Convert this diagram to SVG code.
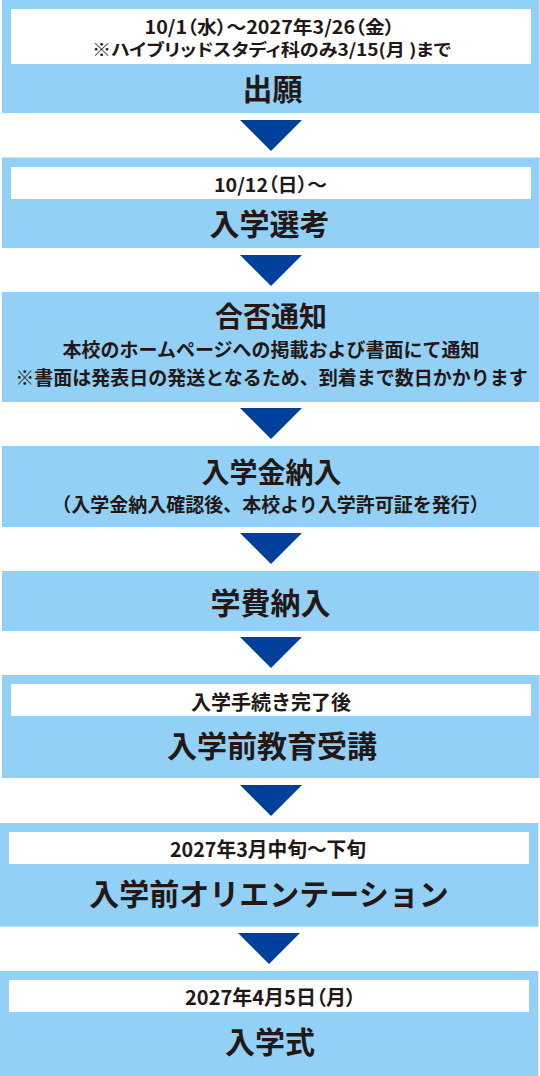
<svg xmlns="http://www.w3.org/2000/svg" width="540" height="1076" viewBox="0 0 540 1076">
  <style>
    .box { fill: #93D0F5; }
    .inner { fill: #FFFFFF; }
    .arrow { fill: #00409A; }
    text { font-family: "Noto Sans CJK JP", "Noto Sans", sans-serif; fill: #231815; text-anchor: middle; font-weight: 700; }
    .title { font-size: 30px; }
    .title28 { font-size: 28px; }
    .sub { font-size: 19px; }
    .date { font-size: 19px; font-feature-settings: "palt"; }
  </style>
  <rect width="540" height="1076" fill="#FFFFFF"/>

  <g id="connectors">
    <polygon class="arrow" points="240,120 302,120 271,151"/>
    <polygon class="arrow" points="240,255 302,255 271,286"/>
    <polygon class="arrow" points="240,408 302,408 271,439"/>
    <polygon class="arrow" points="240,533 302,533 271,564"/>
    <polygon class="arrow" points="240,637 302,637 271,668"/>
    <polygon class="arrow" points="240,785 302,785 271,816"/>
    <polygon class="arrow" points="238,933 300,933 269,964"/>
  </g>

  <g id="node-shutsugan">
    <rect class="box" x="2" y="0" width="537.5" height="113"/>
    <rect class="inner" x="11" y="9" width="520" height="55"/>
    <text class="date" x="269.5" y="33.5" style="font-size:18.5px" textLength="250" lengthAdjust="spacingAndGlyphs">10/1（水）〜2027年3/26（金）</text>
    <text class="date" x="271.5" y="55.5" style="font-size:17px" textLength="359" lengthAdjust="spacingAndGlyphs">※ハイブリッドスタディ科のみ3/15(月 )まで</text>
    <text class="title" x="272.5" y="100">出願</text>
  </g>

  <g id="node-senkou">
    <rect class="box" x="2" y="157.5" width="537.5" height="90.5"/>
    <rect class="inner" x="11" y="167" width="520" height="32"/>
    <text class="date" x="270.5" y="192" textLength="113" lengthAdjust="spacingAndGlyphs">10/12（日）〜</text>
    <text class="title" x="269.5" y="235">入学選考</text>
  </g>

  <g id="node-gouhi">
    <rect class="box" x="2" y="292" width="537.5" height="110"/>
    <text class="title28" x="271" y="327">合否通知</text>
    <text class="sub" x="271" y="357">本校のホームページへの掲載および書面にて通知</text>
    <text class="sub" x="271.5" y="385">※書面は発表日の発送となるため、到着まで数日かかります</text>
  </g>

  <g id="node-nyugakukin">
    <rect class="box" x="2" y="446" width="537.5" height="81"/>
    <text class="title28" x="271.5" y="483">入学金納入</text>
    <text class="sub" x="270.5" y="512">（入学金納入確認後、本校より入学許可証を発行）</text>
  </g>

  <g id="node-gakuhi">
    <rect class="box" x="2" y="571" width="537.5" height="60"/>
    <text class="title" x="270.5" y="614">学費納入</text>
  </g>

  <g id="node-kyouiku">
    <rect class="box" x="2" y="675" width="537.5" height="103"/>
    <rect class="inner" x="11" y="684" width="520" height="32"/>
    <text class="sub" x="271" y="710" style="font-size:20px">入学手続き完了後</text>
    <text class="title" x="272" y="757">入学前教育受講</text>
  </g>

  <g id="node-orientation">
    <rect class="box" x="0" y="823" width="538.3" height="103.7"/>
    <rect class="inner" x="9" y="832" width="520" height="32"/>
    <text class="date" x="268" y="857" style="font-size:20px" textLength="196" lengthAdjust="spacingAndGlyphs">2027年3月中旬〜下旬</text>
    <text class="title" x="269" y="905">入学前オリエンテーション</text>
  </g>

  <g id="node-nyugakushiki">
    <rect class="box" x="0" y="971" width="538.3" height="105"/>
    <rect class="inner" x="9" y="980" width="520" height="32"/>
    <text class="date" x="270.5" y="1005" style="font-size:20px" textLength="171" lengthAdjust="spacingAndGlyphs">2027年4月5日（月）</text>
    <text class="title" x="270" y="1053">入学式</text>
  </g>
</svg>
